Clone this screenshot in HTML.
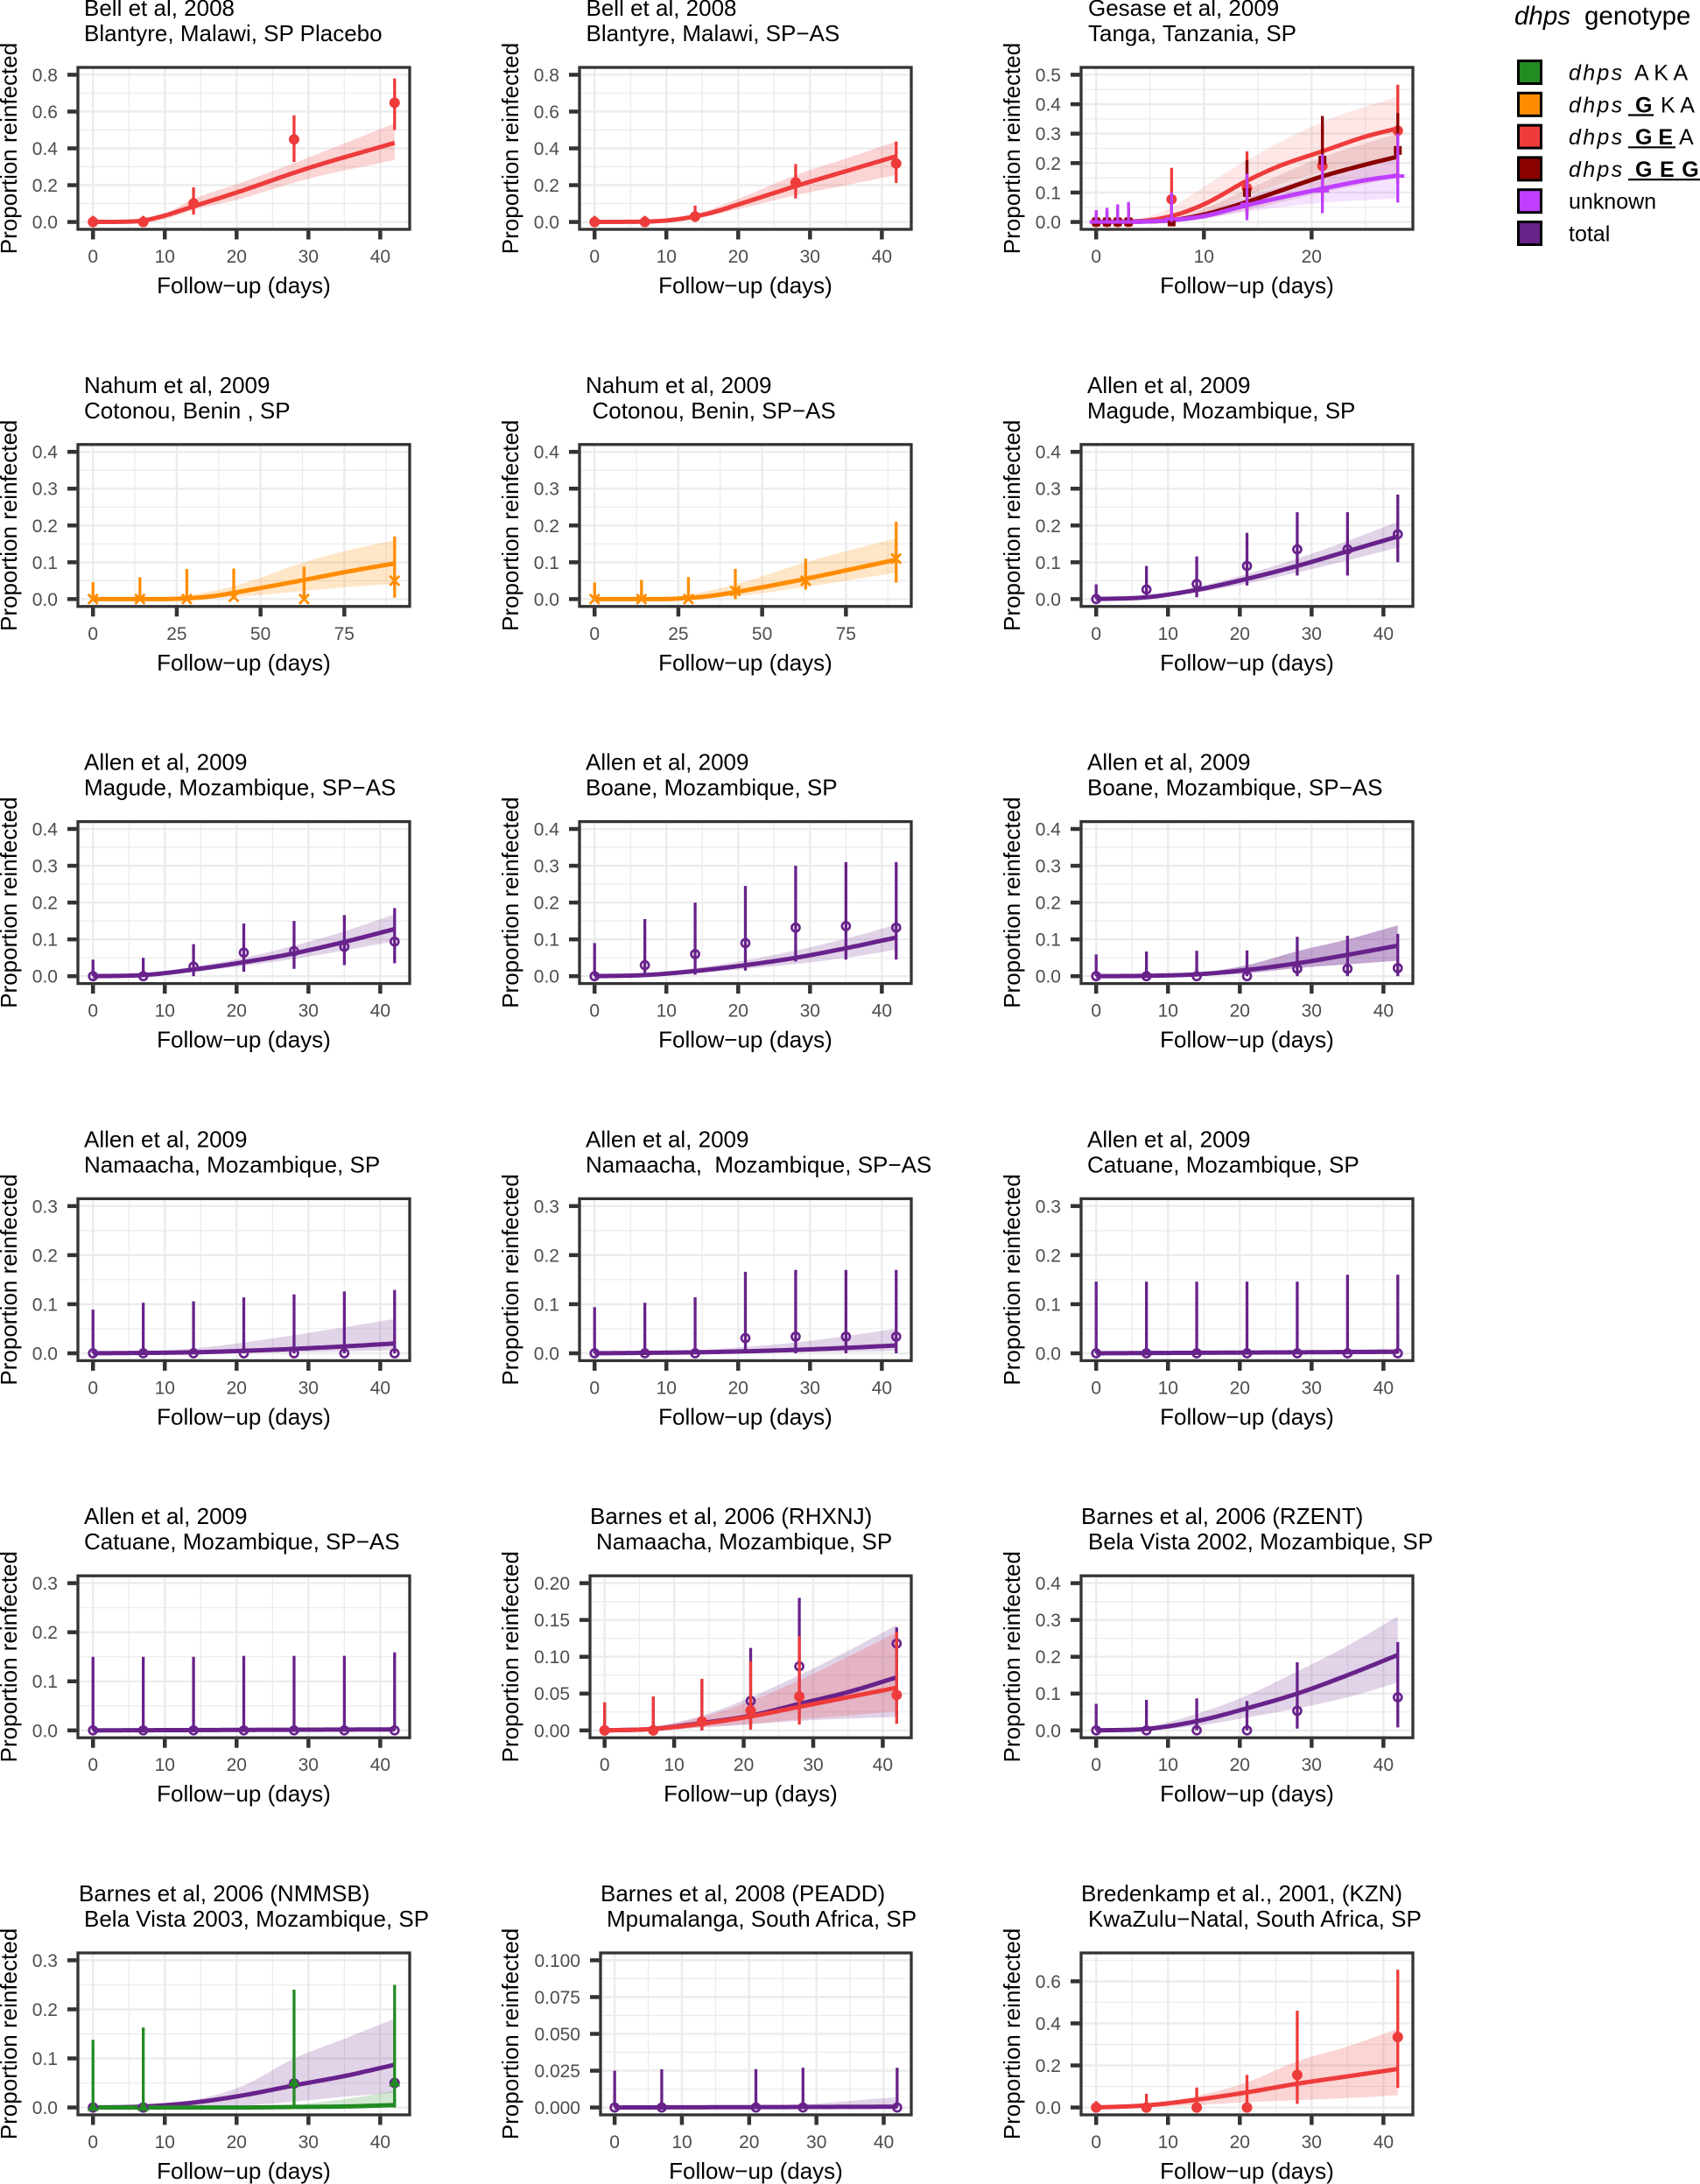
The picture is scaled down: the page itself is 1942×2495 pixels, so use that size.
<!DOCTYPE html>
<html><head><meta charset="utf-8">
<style>
html,body{margin:0;padding:0;background:#fff;}
svg{display:block;}
text{font-family:"Liberation Sans",Arial,sans-serif;}
.tl{font-size:26px;fill:#000;}
.ax{font-size:26px;fill:#000;}
.tkx{font-size:21px;fill:#4D4D4D;text-anchor:middle;}
.tky{font-size:21px;fill:#4D4D4D;text-anchor:end;}
.lg{font-size:25px;fill:#000;}
</style></head>
<body>
<svg id="plot" xmlns="http://www.w3.org/2000/svg" width="1942" height="2495" viewBox="0 0 1942 2495">
<rect x="0" y="0" width="1942" height="2495" fill="#fff"/>
<defs id="defs"></defs>
<g id="gfx"></g>
<g id="txt">
<!-- P00 -->
<g transform="translate(0,0)">
<text class="tl" x="96" y="18">Bell et al, 2008</text>
<text class="tl" x="96" y="47">Blantyre, Malawi, SP Placebo</text>
<text class="ax" transform="translate(19,169.5) rotate(-90)" text-anchor="middle">Proportion reinfected</text>
<text class="ax" x="278.5" y="335" text-anchor="middle">Follow−up (days)</text>
<text class="tky" x="66" y="261.1">0.0</text><text class="tky" x="66" y="219.05">0.2</text><text class="tky" x="66" y="177">0.4</text><text class="tky" x="66" y="134.95">0.6</text><text class="tky" x="66" y="92.9">0.8</text>
<text class="tkx" x="106.2" y="300">0</text><text class="tkx" x="188.3" y="300">10</text><text class="tkx" x="270.3" y="300">20</text><text class="tkx" x="352.3" y="300">30</text><text class="tkx" x="434.4" y="300">40</text>
</g>
<!-- P01 -->
<g transform="translate(573,0)">
<text class="tl" x="96.5" y="18">Bell et al, 2008</text>
<text class="tl" x="96.5" y="47">Blantyre, Malawi, SP−AS</text>
<text class="ax" transform="translate(19,169.5) rotate(-90)" text-anchor="middle">Proportion reinfected</text>
<text class="ax" x="278.5" y="335" text-anchor="middle">Follow−up (days)</text>
<text class="tky" x="66" y="261.1">0.0</text><text class="tky" x="66" y="219.05">0.2</text><text class="tky" x="66" y="177">0.4</text><text class="tky" x="66" y="134.95">0.6</text><text class="tky" x="66" y="92.9">0.8</text>
<text class="tkx" x="106.2" y="300">0</text><text class="tkx" x="188.3" y="300">10</text><text class="tkx" x="270.3" y="300">20</text><text class="tkx" x="352.3" y="300">30</text><text class="tkx" x="434.4" y="300">40</text>
</g>
<!-- P02 -->
<g transform="translate(1146,0)">
<text class="tl" x="97" y="18">Gesase et al, 2009</text>
<text class="tl" x="97" y="47">Tanga, Tanzania, SP</text>
<text class="ax" transform="translate(19,169.5) rotate(-90)" text-anchor="middle">Proportion reinfected</text>
<text class="ax" x="278.5" y="335" text-anchor="middle">Follow−up (days)</text>
<text class="tky" x="66" y="261.1">0.0</text><text class="tky" x="66" y="227.46">0.1</text><text class="tky" x="66" y="193.82">0.2</text><text class="tky" x="66" y="160.18">0.3</text><text class="tky" x="66" y="126.54">0.4</text><text class="tky" x="66" y="92.9">0.5</text>
<text class="tkx" x="106.2" y="300">0</text><text class="tkx" x="229.3" y="300">10</text><text class="tkx" x="352.3" y="300">20</text>
</g>
<!-- P10 -->
<g transform="translate(0,430.8)">
<text class="tl" x="96" y="18">Nahum et al, 2009</text>
<text class="tl" x="96" y="47">Cotonou, Benin , SP</text>
<text class="ax" transform="translate(19,169.5) rotate(-90)" text-anchor="middle">Proportion reinfected</text>
<text class="ax" x="278.5" y="335" text-anchor="middle">Follow−up (days)</text>
<text class="tky" x="66" y="261.1">0.0</text><text class="tky" x="66" y="219.05">0.1</text><text class="tky" x="66" y="177">0.2</text><text class="tky" x="66" y="134.95">0.3</text><text class="tky" x="66" y="92.9">0.4</text>
<text class="tkx" x="106.2" y="300">0</text><text class="tkx" x="201.9" y="300">25</text><text class="tkx" x="297.6" y="300">50</text><text class="tkx" x="393.3" y="300">75</text>
</g>
<!-- P11 -->
<g transform="translate(573,430.8)">
<text class="tl" x="96" y="18">Nahum et al, 2009</text>
<text class="tl" x="103.5" y="47">Cotonou, Benin, SP−AS</text>
<text class="ax" transform="translate(19,169.5) rotate(-90)" text-anchor="middle">Proportion reinfected</text>
<text class="ax" x="278.5" y="335" text-anchor="middle">Follow−up (days)</text>
<text class="tky" x="66" y="261.1">0.0</text><text class="tky" x="66" y="219.05">0.1</text><text class="tky" x="66" y="177">0.2</text><text class="tky" x="66" y="134.95">0.3</text><text class="tky" x="66" y="92.9">0.4</text>
<text class="tkx" x="106.2" y="300">0</text><text class="tkx" x="201.9" y="300">25</text><text class="tkx" x="297.6" y="300">50</text><text class="tkx" x="393.3" y="300">75</text>
</g>
<!-- P12 -->
<g transform="translate(1146,430.8)">
<text class="tl" x="96" y="18">Allen et al, 2009</text>
<text class="tl" x="96" y="47">Magude, Mozambique, SP</text>
<text class="ax" transform="translate(19,169.5) rotate(-90)" text-anchor="middle">Proportion reinfected</text>
<text class="ax" x="278.5" y="335" text-anchor="middle">Follow−up (days)</text>
<text class="tky" x="66" y="261.1">0.0</text><text class="tky" x="66" y="219.05">0.1</text><text class="tky" x="66" y="177">0.2</text><text class="tky" x="66" y="134.95">0.3</text><text class="tky" x="66" y="92.9">0.4</text>
<text class="tkx" x="106.2" y="300">0</text><text class="tkx" x="188.3" y="300">10</text><text class="tkx" x="270.3" y="300">20</text><text class="tkx" x="352.3" y="300">30</text><text class="tkx" x="434.4" y="300">40</text>
</g>
<!-- P20 -->
<g transform="translate(0,861.6)">
<text class="tl" x="96" y="18">Allen et al, 2009</text>
<text class="tl" x="96" y="47">Magude, Mozambique, SP−AS</text>
<text class="ax" transform="translate(19,169.5) rotate(-90)" text-anchor="middle">Proportion reinfected</text>
<text class="ax" x="278.5" y="335" text-anchor="middle">Follow−up (days)</text>
<text class="tky" x="66" y="261.1">0.0</text><text class="tky" x="66" y="219.05">0.1</text><text class="tky" x="66" y="177">0.2</text><text class="tky" x="66" y="134.95">0.3</text><text class="tky" x="66" y="92.9">0.4</text>
<text class="tkx" x="106.2" y="300">0</text><text class="tkx" x="188.3" y="300">10</text><text class="tkx" x="270.3" y="300">20</text><text class="tkx" x="352.3" y="300">30</text><text class="tkx" x="434.4" y="300">40</text>
</g>
<!-- P21 -->
<g transform="translate(573,861.6)">
<text class="tl" x="96" y="18">Allen et al, 2009</text>
<text class="tl" x="96" y="47">Boane, Mozambique, SP</text>
<text class="ax" transform="translate(19,169.5) rotate(-90)" text-anchor="middle">Proportion reinfected</text>
<text class="ax" x="278.5" y="335" text-anchor="middle">Follow−up (days)</text>
<text class="tky" x="66" y="261.1">0.0</text><text class="tky" x="66" y="219.05">0.1</text><text class="tky" x="66" y="177">0.2</text><text class="tky" x="66" y="134.95">0.3</text><text class="tky" x="66" y="92.9">0.4</text>
<text class="tkx" x="106.2" y="300">0</text><text class="tkx" x="188.3" y="300">10</text><text class="tkx" x="270.3" y="300">20</text><text class="tkx" x="352.3" y="300">30</text><text class="tkx" x="434.4" y="300">40</text>
</g>
<!-- P22 -->
<g transform="translate(1146,861.6)">
<text class="tl" x="96" y="18">Allen et al, 2009</text>
<text class="tl" x="96" y="47">Boane, Mozambique, SP−AS</text>
<text class="ax" transform="translate(19,169.5) rotate(-90)" text-anchor="middle">Proportion reinfected</text>
<text class="ax" x="278.5" y="335" text-anchor="middle">Follow−up (days)</text>
<text class="tky" x="66" y="261.1">0.0</text><text class="tky" x="66" y="219.05">0.1</text><text class="tky" x="66" y="177">0.2</text><text class="tky" x="66" y="134.95">0.3</text><text class="tky" x="66" y="92.9">0.4</text>
<text class="tkx" x="106.2" y="300">0</text><text class="tkx" x="188.3" y="300">10</text><text class="tkx" x="270.3" y="300">20</text><text class="tkx" x="352.3" y="300">30</text><text class="tkx" x="434.4" y="300">40</text>
</g>
<!-- P30 -->
<g transform="translate(0,1292.4)">
<text class="tl" x="96" y="18">Allen et al, 2009</text>
<text class="tl" x="96" y="47">Namaacha, Mozambique, SP</text>
<text class="ax" transform="translate(19,169.5) rotate(-90)" text-anchor="middle">Proportion reinfected</text>
<text class="ax" x="278.5" y="335" text-anchor="middle">Follow−up (days)</text>
<text class="tky" x="66" y="261.1">0.0</text><text class="tky" x="66" y="205.03">0.1</text><text class="tky" x="66" y="148.97">0.2</text><text class="tky" x="66" y="92.9">0.3</text>
<text class="tkx" x="106.2" y="300">0</text><text class="tkx" x="188.3" y="300">10</text><text class="tkx" x="270.3" y="300">20</text><text class="tkx" x="352.3" y="300">30</text><text class="tkx" x="434.4" y="300">40</text>
</g>
<!-- P31 -->
<g transform="translate(573,1292.4)">
<text class="tl" x="96" y="18">Allen et al, 2009</text>
<text class="tl" x="96" y="47">Namaacha,&#160; Mozambique, SP−AS</text>
<text class="ax" transform="translate(19,169.5) rotate(-90)" text-anchor="middle">Proportion reinfected</text>
<text class="ax" x="278.5" y="335" text-anchor="middle">Follow−up (days)</text>
<text class="tky" x="66" y="261.1">0.0</text><text class="tky" x="66" y="205.03">0.1</text><text class="tky" x="66" y="148.97">0.2</text><text class="tky" x="66" y="92.9">0.3</text>
<text class="tkx" x="106.2" y="300">0</text><text class="tkx" x="188.3" y="300">10</text><text class="tkx" x="270.3" y="300">20</text><text class="tkx" x="352.3" y="300">30</text><text class="tkx" x="434.4" y="300">40</text>
</g>
<!-- P32 -->
<g transform="translate(1146,1292.4)">
<text class="tl" x="96" y="18">Allen et al, 2009</text>
<text class="tl" x="96" y="47">Catuane, Mozambique, SP</text>
<text class="ax" transform="translate(19,169.5) rotate(-90)" text-anchor="middle">Proportion reinfected</text>
<text class="ax" x="278.5" y="335" text-anchor="middle">Follow−up (days)</text>
<text class="tky" x="66" y="261.1">0.0</text><text class="tky" x="66" y="205.03">0.1</text><text class="tky" x="66" y="148.97">0.2</text><text class="tky" x="66" y="92.9">0.3</text>
<text class="tkx" x="106.2" y="300">0</text><text class="tkx" x="188.3" y="300">10</text><text class="tkx" x="270.3" y="300">20</text><text class="tkx" x="352.3" y="300">30</text><text class="tkx" x="434.4" y="300">40</text>
</g>
<!-- P40 -->
<g transform="translate(0,1723.2)">
<text class="tl" x="96" y="18">Allen et al, 2009</text>
<text class="tl" x="96" y="47">Catuane, Mozambique, SP−AS</text>
<text class="ax" transform="translate(19,169.5) rotate(-90)" text-anchor="middle">Proportion reinfected</text>
<text class="ax" x="278.5" y="335" text-anchor="middle">Follow−up (days)</text>
<text class="tky" x="66" y="261.1">0.0</text><text class="tky" x="66" y="205.03">0.1</text><text class="tky" x="66" y="148.97">0.2</text><text class="tky" x="66" y="92.9">0.3</text>
<text class="tkx" x="106.2" y="300">0</text><text class="tkx" x="188.3" y="300">10</text><text class="tkx" x="270.3" y="300">20</text><text class="tkx" x="352.3" y="300">30</text><text class="tkx" x="434.4" y="300">40</text>
</g>
<!-- P41 -->
<g transform="translate(573,1723.2)">
<text class="tl" x="101" y="18">Barnes et al, 2006 (RHXNJ)</text>
<text class="tl" x="108" y="47">Namaacha, Mozambique, SP</text>
<text class="ax" transform="translate(19,169.5) rotate(-90)" text-anchor="middle">Proportion reinfected</text>
<text class="ax" x="284.5" y="335" text-anchor="middle">Follow−up (days)</text>
<text class="tky" x="78" y="261.1">0.00</text><text class="tky" x="78" y="219.05">0.05</text><text class="tky" x="78" y="177">0.10</text><text class="tky" x="78" y="134.95">0.15</text><text class="tky" x="78" y="92.9">0.20</text>
<text class="tkx" x="117.7" y="300">0</text><text class="tkx" x="197.1" y="300">10</text><text class="tkx" x="276.6" y="300">20</text><text class="tkx" x="356" y="300">30</text><text class="tkx" x="435.4" y="300">40</text>
</g>
<!-- P42 -->
<g transform="translate(1146,1723.2)">
<text class="tl" x="89" y="18">Barnes et al, 2006 (RZENT)</text>
<text class="tl" x="97" y="47">Bela Vista 2002, Mozambique, SP</text>
<text class="ax" transform="translate(19,169.5) rotate(-90)" text-anchor="middle">Proportion reinfected</text>
<text class="ax" x="278.5" y="335" text-anchor="middle">Follow−up (days)</text>
<text class="tky" x="66" y="261.1">0.0</text><text class="tky" x="66" y="219.05">0.1</text><text class="tky" x="66" y="177">0.2</text><text class="tky" x="66" y="134.95">0.3</text><text class="tky" x="66" y="92.9">0.4</text>
<text class="tkx" x="106.2" y="300">0</text><text class="tkx" x="188.3" y="300">10</text><text class="tkx" x="270.3" y="300">20</text><text class="tkx" x="352.3" y="300">30</text><text class="tkx" x="434.4" y="300">40</text>
</g>
<!-- P50 -->
<g transform="translate(0,2154)">
<text class="tl" x="90" y="18">Barnes et al, 2006 (NMMSB)</text>
<text class="tl" x="96" y="47">Bela Vista 2003, Mozambique, SP</text>
<text class="ax" transform="translate(19,169.5) rotate(-90)" text-anchor="middle">Proportion reinfected</text>
<text class="ax" x="278.5" y="335" text-anchor="middle">Follow−up (days)</text>
<text class="tky" x="66" y="261.1">0.0</text><text class="tky" x="66" y="205.03">0.1</text><text class="tky" x="66" y="148.97">0.2</text><text class="tky" x="66" y="92.9">0.3</text>
<text class="tkx" x="106.2" y="300">0</text><text class="tkx" x="188.3" y="300">10</text><text class="tkx" x="270.3" y="300">20</text><text class="tkx" x="352.3" y="300">30</text><text class="tkx" x="434.4" y="300">40</text>
</g>
<!-- P51 -->
<g transform="translate(573,2154)">
<text class="tl" x="113" y="18">Barnes et al, 2008 (PEADD)</text>
<text class="tl" x="120" y="47">Mpumalanga, South Africa, SP</text>
<text class="ax" transform="translate(19,169.5) rotate(-90)" text-anchor="middle">Proportion reinfected</text>
<text class="ax" x="290.5" y="335" text-anchor="middle">Follow−up (days)</text>
<text class="tky" x="90" y="261.1">0.000</text><text class="tky" x="90" y="219.05">0.025</text><text class="tky" x="90" y="177">0.050</text><text class="tky" x="90" y="134.95">0.075</text><text class="tky" x="90" y="92.9">0.100</text>
<text class="tkx" x="129.1" y="300">0</text><text class="tkx" x="206" y="300">10</text><text class="tkx" x="282.8" y="300">20</text><text class="tkx" x="359.7" y="300">30</text><text class="tkx" x="436.5" y="300">40</text>
</g>
<!-- P52 -->
<g transform="translate(1146,2154)">
<text class="tl" x="89" y="18">Bredenkamp et al., 2001, (KZN)</text>
<text class="tl" x="97" y="47">KwaZulu−Natal, South Africa, SP</text>
<text class="ax" transform="translate(19,169.5) rotate(-90)" text-anchor="middle">Proportion reinfected</text>
<text class="ax" x="278.5" y="335" text-anchor="middle">Follow−up (days)</text>
<text class="tky" x="66" y="261.1">0.0</text><text class="tky" x="66" y="213.05">0.2</text><text class="tky" x="66" y="165">0.4</text><text class="tky" x="66" y="116.94">0.6</text>
<text class="tkx" x="106.2" y="300">0</text><text class="tkx" x="188.3" y="300">10</text><text class="tkx" x="270.3" y="300">20</text><text class="tkx" x="352.3" y="300">30</text><text class="tkx" x="434.4" y="300">40</text>
</g>
<!-- Legend -->
<g>
<text x="1730" y="28" style="font-size:29.5px;font-style:italic;">dhps</text>
<text x="1810" y="28" style="font-size:29.5px;">genotype</text>
<rect x="1734.5" y="69.5" width="26" height="26" fill="#228B22" stroke="#000" stroke-width="3"/>
<rect x="1734.5" y="106.3" width="26" height="26" fill="#FF8C00" stroke="#000" stroke-width="3"/>
<rect x="1734.5" y="143.1" width="26" height="26" fill="#EE3B3B" stroke="#000" stroke-width="3"/>
<rect x="1734.5" y="179.9" width="26" height="26" fill="#8B0000" stroke="#000" stroke-width="3"/>
<rect x="1734.5" y="216.7" width="26" height="26" fill="#BF3EFF" stroke="#000" stroke-width="3"/>
<rect x="1734.5" y="253.5" width="26" height="26" fill="#68228B" stroke="#000" stroke-width="3"/>
<text class="lg" x="1792" y="91.5" style="font-style:italic;letter-spacing:2.3px;">dhps</text>
<text class="lg" x="1867" y="91.5">A K A</text>
<text class="lg" x="1792" y="128.3" style="font-style:italic;letter-spacing:2.3px;">dhps</text>
<text class="lg" x="1868" y="128.3" style="font-weight:bold;">G</text>
<text class="lg" x="1897" y="128.3">K A</text>
<line x1="1860" x2="1889" y1="131.5" y2="131.5" stroke="#000" stroke-width="2.2"/>
<text class="lg" x="1792" y="165.1" style="font-style:italic;letter-spacing:2.3px;">dhps</text>
<text class="lg" x="1868" y="165.1" style="font-weight:bold;">G E</text>
<text class="lg" x="1918" y="165.1">A</text>
<line x1="1860" x2="1914" y1="168.3" y2="168.3" stroke="#000" stroke-width="2.2"/>
<text class="lg" x="1792" y="201.9" style="font-style:italic;letter-spacing:2.3px;">dhps</text>
<text class="lg" x="1868" y="201.9" style="font-weight:bold;letter-spacing:0.8px;">G E G</text>
<line x1="1860" x2="1942" y1="205.1" y2="205.1" stroke="#000" stroke-width="2.2"/>
<text class="lg" x="1792" y="238.7">unknown</text>
<text class="lg" x="1792" y="275.5">total</text>
</g>
</g>
</svg>
<script>
(function(){
const NS='http://www.w3.org/2000/svg';
const gfx=document.getElementById('gfx');
const defs=document.getElementById('defs');
function mk(tag,a,p){const e=document.createElementNS(NS,tag);for(const k in a)e.setAttribute(k,a[k]);(p||gfx).appendChild(e);return e;}
function mono(pts){
 const n=pts.length, xs=pts.map(p=>p[0]), ys=pts.map(p=>p[1]);
 if(n<2) return ()=>ys[0];
 const d=[], m=new Array(n);
 for(let i=0;i<n-1;i++) d.push((ys[i+1]-ys[i])/(xs[i+1]-xs[i]));
 m[0]=d[0]; m[n-1]=d[n-2];
 for(let i=1;i<n-1;i++){ m[i]=(d[i-1]*d[i]<=0)?0:(d[i-1]+d[i])/2; }
 for(let i=0;i<n-1;i++){
  if(d[i]===0){m[i]=0;m[i+1]=0;continue;}
  const a=m[i]/d[i], b=m[i+1]/d[i], s=a*a+b*b;
  if(s>9){const t=3/Math.sqrt(s); m[i]=t*a*d[i]; m[i+1]=t*b*d[i];}
 }
 return x=>{
  if(x<=xs[0])return ys[0]; if(x>=xs[n-1])return ys[n-1];
  let i=0; while(x>xs[i+1])i++;
  const h=xs[i+1]-xs[i], t=(x-xs[i])/h, t2=t*t, t3=t2*t;
  return (2*t3-3*t2+1)*ys[i]+(t3-2*t2+t)*h*m[i]+(-2*t3+3*t2)*ys[i+1]+(t3-t2)*h*m[i+1];
 };
}
function point(g,sh,x,y,col){
 switch(sh){
  case 'dot': mk('circle',{cx:x,cy:y,r:6.0,fill:col},g);break;
  case 'oc': mk('circle',{cx:x,cy:y,r:4.5,fill:'none',stroke:col,'stroke-width':2.7},g);break;
  case 'sq': mk('rect',{x:x-4.5,y:y-5,width:9,height:10,fill:col},g);break;
  case 'dash': mk('rect',{x:x-7.5,y:y-2,width:15,height:4,fill:col},g);break;
  case 'x': mk('path',{d:`M${x-5.5} ${y-5.5}L${x+5.5} ${y+5.5}M${x-5.5} ${y+5.5}L${x+5.5} ${y-5.5}`,stroke:col,'stroke-width':2.8,fill:'none'},g);break;
  case 'tri': mk('polygon',{points:`${x},${y-7.5} ${x-6.5},${y+4} ${x+6.5},${y+4}`,fill:col},g);break;
 }
}
const RED='#EE3B3B', DR='#8B0000', OR='#FF8C00', PU='#68228B', UN='#BF3EFF', GR='#228B22';
const X42=[0,10,20,30,40];
const P=[
{r:0,c:0,L:89,T:42,Y:0.8,xt:X42,yt:[0,.2,.4,.6,.8],s:[
 {col:RED,sh:'dot',a:0.22,
  rib:[[0,0,0],[7,0,0.015],[10,0.015,0.045],[14,0.065,0.125],[20,0.12,0.205],[30,0.235,0.35],[42,0.337,0.536]],
  line:[[0,0],[5,0.002],[7,0.008],[10,0.035],[14,0.085],[20,0.16],[30,0.293],[42,0.43]],
  pts:[[0,0,0,0.033],[7,0,0,0.033],[14,0.101,0.04,0.188],[28,0.449,0.326,0.58],[42,0.648,0.5,0.78]]}]},
{r:0,c:1,L:89,T:42,Y:0.8,xt:X42,yt:[0,.2,.4,.6,.8],s:[
 {col:RED,sh:'dot',a:0.22,
  rib:[[0,0,0],[7,0,0.005],[10,0.003,0.014],[14,0.018,0.042],[20,0.07,0.125],[28,0.145,0.255],[35,0.2,0.345],[42,0.255,0.437]],
  line:[[0,0],[5,0.001],[7,0.002],[10,0.008],[14,0.03],[17,0.058],[20,0.095],[24,0.145],[28,0.195],[35,0.276],[42,0.357]],
  pts:[[0,0,0,0.033],[7,0,0,0.033],[14,0.03,0,0.089],[28,0.215,0.128,0.315],[42,0.318,0.212,0.437]]}]},
{r:0,c:2,L:89,T:28,Y:0.5,xt:[0,10,20],yt:[0,.1,.2,.3,.4,.5],s:[
 {col:RED,sh:'dot',a:0.12,
  rib:[[0,0,0],[4,0,0.01],[7,0.005,0.05],[10,0.025,0.12],[14,0.09,0.21],[21,0.17,0.34],[28,0.22,0.427]],
  line:[[0,0],[4,0.003],[7,0.02],[10,0.06],[14,0.14],[17,0.19],[21,0.24],[25,0.29],[28,0.318]],
  pts:[[0,0,0,0.04],[1,0,0,0.045],[2,0,0,0.055],[3,0,0,0.065],[7,0.077,0,0.184],[14,0.115,0.03,0.24],[21,0.19,0.08,0.33],[28,0.31,0.15,0.466]]},
 {col:DR,sh:'sq',a:0.12,
  rib:[[0,0,0],[7,0.002,0.012],[10,0.012,0.045],[14,0.04,0.11],[21,0.1,0.22],[28,0.15,0.3]],
  line:[[0,0],[5,0.002],[7,0.006],[10,0.025],[14,0.068],[17,0.105],[21,0.155],[25,0.195],[28,0.222]],
  pts:[[0,0,0,0.03],[1,0,0,0.035],[2,0,0,0.04],[3,0,0,0.045],[7,0,0,0.09],[14,0.1,0.02,0.21],[21,0.21,0.1,0.36],[28,0.243,0.13,0.37]]},
 {col:UN,sh:'dash',a:0.15,
  rib:[[0,0,0],[7,0.002,0.012],[10,0.01,0.035],[14,0.035,0.085],[21,0.065,0.16],[28,0.08,0.22]],
  line:[[0,0],[5,0.002],[7,0.006],[10,0.02],[14,0.057],[17,0.082],[21,0.113],[25,0.142],[28,0.158]],
  pts:[[0,0,0,0.04],[1,0,0,0.048],[2,0,0,0.06],[3,0,0,0.068],[7,0.01,0,0.1],[14,0.06,0.006,0.164],[21,0.106,0.03,0.23],[28,0.156,0.066,0.3]]}]},
{r:1,c:0,L:89,T:90,Y:0.4,xt:[0,25,50,75],yt:[0,.1,.2,.3,.4],s:[
 {col:OR,sh:'x',a:0.22,
  rib:[[0,0,0],[18,0,0.001],[28,0,0.01],[42,0.005,0.035],[63,0.022,0.1],[75,0.032,0.13],[90,0.042,0.16]],
  line:[[0,0],[20,0],[28,0.002],[35,0.007],[42,0.017],[50,0.03],[63,0.052],[75,0.073],[90,0.097]],
  pts:[[0,0,0,0.046],[14,0,0,0.059],[28,0,0,0.082],[42,0.006,0,0.083],[63,0,0,0.088],[90,0.05,0.004,0.17]]}]},
{r:1,c:1,L:89,T:90,Y:0.4,xt:[0,25,50,75],yt:[0,.1,.2,.3,.4],s:[
 {col:OR,sh:'x',a:0.22,
  rib:[[0,0,0],[18,0,0.001],[28,0.001,0.012],[42,0.008,0.04],[63,0.033,0.1],[75,0.05,0.13],[90,0.072,0.165]],
  line:[[0,0],[20,0],[28,0.003],[35,0.009],[42,0.019],[50,0.032],[63,0.055],[75,0.078],[90,0.107]],
  pts:[[0,0,0,0.045],[14,0,0,0.052],[28,0,0,0.06],[42,0.022,0,0.082],[63,0.05,0.026,0.11],[90,0.11,0.045,0.21]]}]},
{r:1,c:2,L:89,T:42,Y:0.4,xt:X42,yt:[0,.1,.2,.3,.4],s:[
 {col:PU,sh:'oc',a:0.2,
  rib:[[0,0,0],[7,0.003,0.008],[14,0.018,0.033],[21,0.042,0.068],[28,0.072,0.11],[35,0.105,0.158],[42,0.14,0.21]],
  line:[[0,0],[7,0.005],[14,0.025],[21,0.055],[28,0.09],[35,0.13],[42,0.17]],
  pts:[[0,0,0,0.04],[7,0.026,0,0.09],[14,0.041,0.005,0.116],[21,0.09,0.037,0.18],[28,0.135,0.064,0.236],[35,0.135,0.064,0.236],[42,0.176,0.1,0.284]]}]},
{r:2,c:0,L:89,T:42,Y:0.4,xt:X42,yt:[0,.1,.2,.3,.4],s:[
 {col:PU,sh:'oc',a:0.2,
  rib:[[0,0,0],[7,0.001,0.006],[14,0.012,0.026],[21,0.028,0.05],[28,0.047,0.083],[35,0.07,0.122],[42,0.095,0.168]],
  line:[[0,0],[7,0.003],[14,0.018],[21,0.038],[28,0.062],[35,0.093],[42,0.128]],
  pts:[[0,0,0,0.045],[7,0,0,0.05],[14,0.026,0,0.087],[21,0.064,0.012,0.143],[28,0.068,0.02,0.15],[35,0.08,0.03,0.166],[42,0.094,0.035,0.185]]}]},
{r:2,c:1,L:89,T:42,Y:0.4,xt:X42,yt:[0,.1,.2,.3,.4],s:[
 {col:PU,sh:'oc',a:0.2,
  rib:[[0,0,0],[7,0.001,0.006],[14,0.008,0.022],[21,0.02,0.043],[28,0.033,0.07],[35,0.05,0.102],[42,0.072,0.14]],
  line:[[0,0],[7,0.003],[14,0.014],[21,0.03],[28,0.05],[35,0.076],[42,0.105]],
  pts:[[0,0,0,0.09],[7,0.03,0,0.155],[14,0.06,0.004,0.2],[21,0.09,0.015,0.245],[28,0.132,0.04,0.3],[35,0.136,0.045,0.31],[42,0.132,0.045,0.31]]}]},
{r:2,c:2,L:89,T:42,Y:0.4,xt:X42,yt:[0,.1,.2,.3,.4],s:[
 {col:PU,sh:'oc',a:0.4,
  rib:[[0,0,0],[10,0,0.002],[14,0.001,0.008],[21,0.008,0.03],[28,0.022,0.068],[35,0.032,0.1],[42,0.042,0.138]],
  line:[[0,0],[7,0.001],[14,0.005],[21,0.017],[28,0.035],[35,0.058],[42,0.083]],
  pts:[[0,0,0,0.059],[7,0,0,0.067],[14,0,0,0.069],[21,0,0,0.07],[28,0.02,0,0.107],[35,0.02,0,0.11],[42,0.022,0,0.115]]}]},
{r:3,c:0,L:89,T:42,Y:0.3,xt:X42,yt:[0,.1,.2,.3],s:[
 {col:PU,sh:'oc',a:0.2,
  rib:[[0,0,0],[14,0,0.01],[21,0.001,0.022],[28,0.002,0.037],[35,0.004,0.053],[42,0.006,0.07]],
  line:[[0,0],[14,0.002],[21,0.005],[28,0.009],[35,0.014],[42,0.02]],
  pts:[[0,0,0,0.089],[7,0,0,0.103],[14,0,0,0.106],[21,0,0,0.114],[28,0,0,0.12],[35,0,0,0.126],[42,0,0,0.129]]}]},
{r:3,c:1,L:89,T:42,Y:0.3,xt:X42,yt:[0,.1,.2,.3],s:[
 {col:PU,sh:'oc',a:0.2,
  rib:[[0,0,0],[14,0,0.006],[21,0.001,0.013],[28,0.002,0.022],[35,0.003,0.035],[42,0.005,0.05]],
  line:[[0,0],[14,0.002],[21,0.004],[28,0.007],[35,0.011],[42,0.016]],
  pts:[[0,0,0,0.094],[7,0,0,0.103],[14,0,0,0.114],[21,0.031,0,0.166],[28,0.034,0,0.17],[35,0.034,0,0.17],[42,0.034,0,0.17]]}]},
{r:3,c:2,L:89,T:42,Y:0.3,xt:X42,yt:[0,.1,.2,.3],s:[
 {col:PU,sh:'oc',a:0.2,
  rib:[[0,0,0],[21,0,0.003],[42,0,0.01]],
  line:[[0,0],[42,0.003]],
  pts:[[0,0,0,0.146],[7,0,0,0.146],[14,0,0,0.146],[21,0,0,0.146],[28,0,0,0.146],[35,0,0,0.16],[42,0,0,0.16]]}]},
{r:4,c:0,L:89,T:42,Y:0.3,xt:X42,yt:[0,.1,.2,.3],s:[
 {col:PU,sh:'oc',a:0.2,
  rib:[[0,0,0],[42,0,0.005]],
  line:[[0,0],[42,0.002]],
  pts:[[0,0,0,0.15],[7,0,0,0.15],[14,0,0,0.15],[21,0,0,0.152],[28,0,0,0.152],[35,0,0,0.152],[42,0,0,0.159]]}]},
{r:4,c:1,L:101,T:42,Y:0.2,xt:X42,yt:[0,.05,.1,.15,.2],s:[
 {col:PU,sh:'oc',a:0.2,
  rib:[[0,0,0],[7,0,0.005],[14,0.004,0.02],[21,0.008,0.045],[28,0.013,0.075],[35,0.016,0.108],[42,0.018,0.143]],
  line:[[0,0],[7,0.002],[14,0.01],[21,0.02],[28,0.036],[35,0.052],[42,0.072]],
  pts:[[0,0,0,0.038],[7,0,0,0.046],[14,0.012,0,0.07],[21,0.04,0.004,0.112],[28,0.087,0.02,0.18],[42,0.118,0.02,0.14]]},
 {col:RED,sh:'dot',a:0.2,
  rib:[[0,0,0],[7,0,0.005],[14,0.004,0.018],[21,0.009,0.04],[28,0.015,0.068],[35,0.02,0.1],[42,0.026,0.133]],
  line:[[0,0],[7,0.002],[14,0.009],[21,0.019],[28,0.032],[35,0.045],[42,0.058]],
  pts:[[0,0,0,0.038],[7,0,0,0.046],[14,0.012,0,0.07],[21,0.027,0.001,0.094],[28,0.046,0.008,0.128],[42,0.048,0.009,0.134]]}]},
{r:4,c:2,L:89,T:42,Y:0.4,xt:X42,yt:[0,.1,.2,.3,.4],s:[
 {col:PU,sh:'oc',a:0.2,
  rib:[[0,0,0],[7,0.001,0.01],[14,0.012,0.045],[21,0.035,0.095],[28,0.06,0.16],[35,0.09,0.23],[42,0.13,0.31]],
  line:[[0,0],[7,0.004],[14,0.025],[21,0.06],[28,0.1],[35,0.15],[42,0.205]],
  pts:[[0,0,0,0.072],[7,0,0,0.083],[14,0,0,0.087],[21,0,0,0.08],[28,0.053,0.005,0.185],[42,0.09,0.008,0.24]]}]},
{r:5,c:0,L:89,T:42,Y:0.3,xt:X42,yt:[0,.1,.2,.3],s:[
 {col:PU,sh:'dot',a:0.2,
  rib:[[0,0,0],[7,0,0.003],[14,0.001,0.015],[21,0.004,0.045],[28,0.012,0.1],[35,0.022,0.14],[42,0.03,0.181]],
  line:[[0,0],[7,0.002],[14,0.01],[21,0.025],[28,0.045],[35,0.064],[42,0.087]],
  pts:[[0,0],[7,0],[28,0.049],[42,0.05]]},
 {col:GR,sh:'tri',a:0.2,
  rib:[[0,0,0],[21,0,0.001],[28,0,0.006],[35,0,0.017],[42,0,0.034]],
  line:[[0,0],[21,0],[28,0.001],[35,0.002],[42,0.005]],
  pts:[[0,0,0,0.138],[7,0,0,0.163],[28,0.05,0,0.24],[42,0.05,0,0.25]]}]},
{r:5,c:1,L:113,T:42,Y:0.1,xt:X42,yt:[0,.025,.05,.075,.1],s:[
 {col:PU,sh:'oc',a:0.2,
  rib:[[0,0,0],[20,0,0.0003],[42,0,0.007]],
  line:[[0,0],[42,0.0005]],
  pts:[[0,0,0,0.025],[7,0,0,0.026],[21,0,0,0.026],[28,0,0,0.027],[42,0,0,0.027]]}]},
{r:5,c:2,L:89,T:42,Y:0.7,xt:X42,yt:[0,.2,.4,.6],s:[
 {col:RED,sh:'dot',a:0.22,
  rib:[[0,0,0],[7,0.002,0.015],[14,0.012,0.055],[21,0.025,0.12],[28,0.035,0.22],[35,0.045,0.29],[42,0.058,0.374]],
  line:[[0,0],[7,0.01],[14,0.037],[21,0.072],[28,0.113],[35,0.148],[42,0.183]],
  pts:[[0,0,0,0.03],[7,0,0,0.065],[14,0,0,0.095],[21,0,0,0.155],[28,0.155,0.017,0.46],[42,0.335,0.093,0.655]]}]}
];
P.forEach((p,i)=>{
 const ox=p.c*573, oy=p.r*430.8;
 const L=ox+p.L, R=ox+468, T=oy+77, B=oy+262;
 const X=t=>L+(t+0.05*p.T)*(R-L)/(1.1*p.T);
 const Y=v=>B-(v+0.05*p.Y)*185/(1.1*p.Y);
 const g=mk('g',{});
 mk('rect',{x:L,y:T,width:R-L,height:B-T,fill:'#fff'},g);
 const xd=p.xt[1]-p.xt[0], yd=p.yt[1]-p.yt[0];
 for(let v=p.xt[0]-xd/2; v<=1.05*p.T; v+=xd){ if(v>=-0.05*p.T) mk('line',{x1:X(v),x2:X(v),y1:T,y2:B,stroke:'#EBEBEB','stroke-width':1.2},g); }
 for(let v=p.yt[0]-yd/2; v<=1.05*p.Y+1e-9; v+=yd){ if(v>=-0.05*p.Y) mk('line',{x1:L,x2:R,y1:Y(v),y2:Y(v),stroke:'#EBEBEB','stroke-width':1.2},g); }
 p.xt.forEach(v=>mk('line',{x1:X(v),x2:X(v),y1:T,y2:B,stroke:'#EBEBEB','stroke-width':2.3},g));
 p.yt.forEach(v=>mk('line',{x1:L,x2:R,y1:Y(v),y2:Y(v),stroke:'#EBEBEB','stroke-width':2.3},g));
 const cid='cp'+i; const cp=mk('clipPath',{id:cid},defs); mk('rect',{x:L,y:T,width:R-L,height:B-T},cp);
 const dg=mk('g',{'clip-path':'url(#'+cid+')'},g);
 p.s.forEach(s=>{
  const lo=mono(s.rib.map(a=>[a[0],a[1]])), hi=mono(s.rib.map(a=>[a[0],a[2]]));
  const t0=s.rib[0][0], t1=s.rib[s.rib.length-1][0], N=150; const up=[],dn=[];
  for(let k=0;k<=N;k++){const t=t0+(t1-t0)*k/N; up.push(X(t).toFixed(2)+','+Y(hi(t)).toFixed(2)); dn.push(X(t).toFixed(2)+','+Y(lo(t)).toFixed(2));}
  mk('polygon',{points:up.concat(dn.reverse()).join(' '),fill:s.col,'fill-opacity':s.a},dg);
 });
 p.s.forEach(s=>{
  const f=mono(s.line); const t0=s.line[0][0], t1=s.line[s.line.length-1][0], N=150; const pts=[];
  for(let k=0;k<=N;k++){const t=t0+(t1-t0)*k/N; pts.push(X(t).toFixed(2)+','+Y(f(t)).toFixed(2));}
  mk('polyline',{points:pts.join(' '),fill:'none',stroke:s.col,'stroke-width':5,'stroke-linejoin':'round'},dg);
 });
 p.s.forEach(s=>{
  s.pts.forEach(q=>{
   const x=X(q[0]);
   if(q.length>3 && q[3]>q[2]) mk('line',{x1:x,x2:x,y1:Y(q[2]),y2:Y(q[3]),stroke:s.col,'stroke-width':3.3},g);
   point(g,s.sh,x,Y(q[1]),s.col);
  });
 });
 mk('rect',{x:L,y:T,width:R-L,height:B-T,fill:'none',stroke:'#333','stroke-width':3.3},g);
 p.xt.forEach(v=>mk('line',{x1:X(v),x2:X(v),y1:B+1.6,y2:B+11.5,stroke:'#333','stroke-width':4.5},g));
 p.yt.forEach(v=>mk('line',{x1:L-12,x2:L-1.6,y1:Y(v),y2:Y(v),stroke:'#333','stroke-width':4.5},g));
});
})();
</script>
</body></html>
